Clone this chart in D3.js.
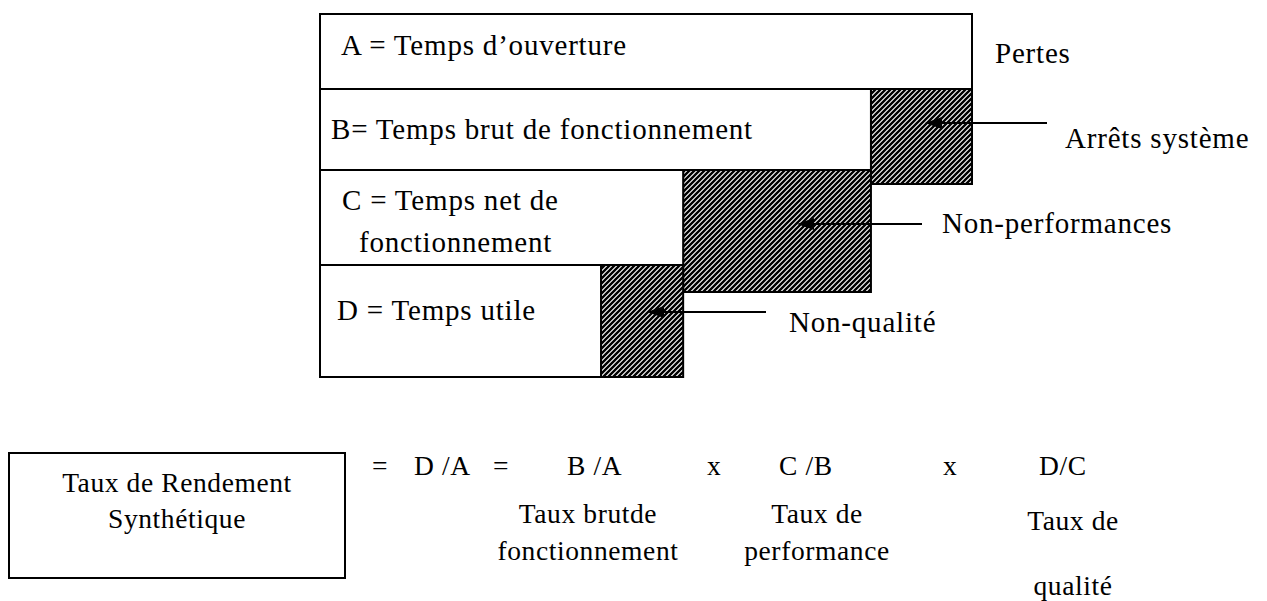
<!DOCTYPE html>
<html>
<head>
<meta charset="utf-8">
<script src="https://cdn.jsdelivr.net/npm/d3@7"></script>
<style>
  body { margin: 0; }
  svg text { font-family: "Liberation Serif", Tinos, "Times New Roman", serif !important; }
</style>
</head>
<body>
<svg id="chart"></svg>
<script>
// time of each level, as % of the opening time A
const rowLabels = [
  ["A = Temps d\u2019ouverture"],
  ["B= Temps brut de fonctionnement"],
  ["C =  Temps net de", "fonctionnement"],
  ["D = Temps utile"]
];
const rowTimes = [100, 84.5, 55.7, 43.1];
const lossLabels = ["Arr\u00eats syst\u00e8me", "Non-performances", "Non-qualit\u00e9"];
const pertesLabel = "Pertes";
const trsLabel = ["Taux de Rendement", "Synth\u00e9tique"];
const formulaTerms = ["=", "D /A", "=", "B /A", "x", "C /B", "x", "D/C"];
const rateLabels = [["Taux brutde", "fonctionnement"], ["Taux de", "performance"], ["Taux de", "qualit\u00e9"]];

const width = 1267, height = 601;

// layout
const rowTop = [14, 89, 170, 265];
const rowBottom = [89, 170, 265, 377];
const lossBottom = [184, 292, 377];
const rowText = [[[341, 55]], [[331, 139]], [[342, 210], [359, 252]], [[337, 320]]];
const lossText = [[1065, 148], [942, 233], [789, 332]];
const arrows = [
  { y: 123, from: 1047, to: 925 },
  { y: 224, from: 922, to: 797 },
  { y: 312, from: 766, to: 647 }
];
const termX = [372, 414, 493, 567, 707, 779, 943, 1039];
const termY = 475;
const rateX = [588, 817, 1073];
const rateY = [[523, 560], [523, 560], [530, 595]];
const trsBox = { x: 9, y: 453, w: 336, h: 125 };

const x = d3.scaleLinear().domain([0, 100]).range([320, 972]);

const svg = d3.select('#chart')
  .attr('width', width).attr('height', height)
  .attr('font-family', 'Liberation Serif')
  .style('background', '#fff');

// texts first, so nothing before them changes how they are set
const tg = svg.append('g').attr('font-family', 'Liberation Serif');

const defs = svg.append('defs');
const pat = defs.append('pattern')
  .attr('id', 'hatch')
  .attr('patternUnits', 'userSpaceOnUse')
  .attr('width', 5).attr('height', 5);
pat.append('rect').attr('width', 5).attr('height', 5).attr('fill', '#fff');
pat.append('path')
  .attr('d', 'M-1,1 l2,-2 M0,5 l5,-5 M4,6 l2,-2')
  .attr('stroke', '#000').attr('stroke-width', 2.4);

// losses (hatched), between consecutive levels
const losses = d3.range(3).map(i => ({
  x0: x(rowTimes[i + 1]), x1: x(rowTimes[i]), y0: rowTop[i + 1], y1: lossBottom[i]
}));

const shapes = svg.insert('g', () => tg.node());

shapes.append('g')
  .selectAll('rect')
  .data(losses)
  .join('rect')
  .attr('x', d => d.x0)
  .attr('y', d => d.y0)
  .attr('width', d => d.x1 - d.x0)
  .attr('height', d => d.y1 - d.y0)
  .attr('fill', 'url(#hatch)')
  .attr('stroke', '#000')
  .attr('stroke-width', 2);

// time levels
shapes.append('g')
  .selectAll('rect')
  .data(rowTimes)
  .join('rect')
  .attr('x', x(0))
  .attr('y', (d, i) => rowTop[i])
  .attr('width', d => x(d) - x(0))
  .attr('height', (d, i) => rowBottom[i] - rowTop[i])
  .attr('fill', '#fff')
  .attr('stroke', '#000')
  .attr('stroke-width', 2);

// TRS box
shapes.append('rect')
  .attr('x', trsBox.x).attr('y', trsBox.y)
  .attr('width', trsBox.w).attr('height', trsBox.h)
  .attr('fill', '#fff').attr('stroke', '#000').attr('stroke-width', 2);

// arrows
arrows.forEach(a => {
  shapes.append('line')
    .attr('x1', a.from).attr('x2', a.to + 10)
    .attr('y1', a.y).attr('y2', a.y)
    .attr('stroke', '#000').attr('stroke-width', 2);
  shapes.append('path')
    .attr('d', `M${a.to},${a.y} L${a.to + 17},${a.y - 6} L${a.to + 17},${a.y + 6} Z`)
    .attr('fill', '#000');
});

const label = (str, px, py, size, anchor) => tg.append('text')
  .attr('x', px)
  .attr('y', py)
  .attr('text-anchor', anchor || 'start')
  .attr('font-family', 'Liberation Serif')
  .attr('font-size', size)
  .attr('letter-spacing', size > 28 ? 0.8 : 0.6)
  .text(str);

rowLabels.forEach((lines, i) => lines.forEach((s, j) => label(s, rowText[i][j][0], rowText[i][j][1], 29)));
label(pertesLabel, 995, 63, 29);
lossLabels.forEach((s, i) => label(s, lossText[i][0], lossText[i][1], 29));

trsLabel.forEach((s, i) => label(s, trsBox.x + trsBox.w / 2, [492, 528][i], 27.5, 'middle'));
formulaTerms.forEach((s, i) => label(s, termX[i], termY, 27.5));
rateLabels.forEach((lines, i) => lines.forEach((s, j) => label(s, rateX[i], rateY[i][j], 27.5, 'middle')));
</script>
</body>
</html>
